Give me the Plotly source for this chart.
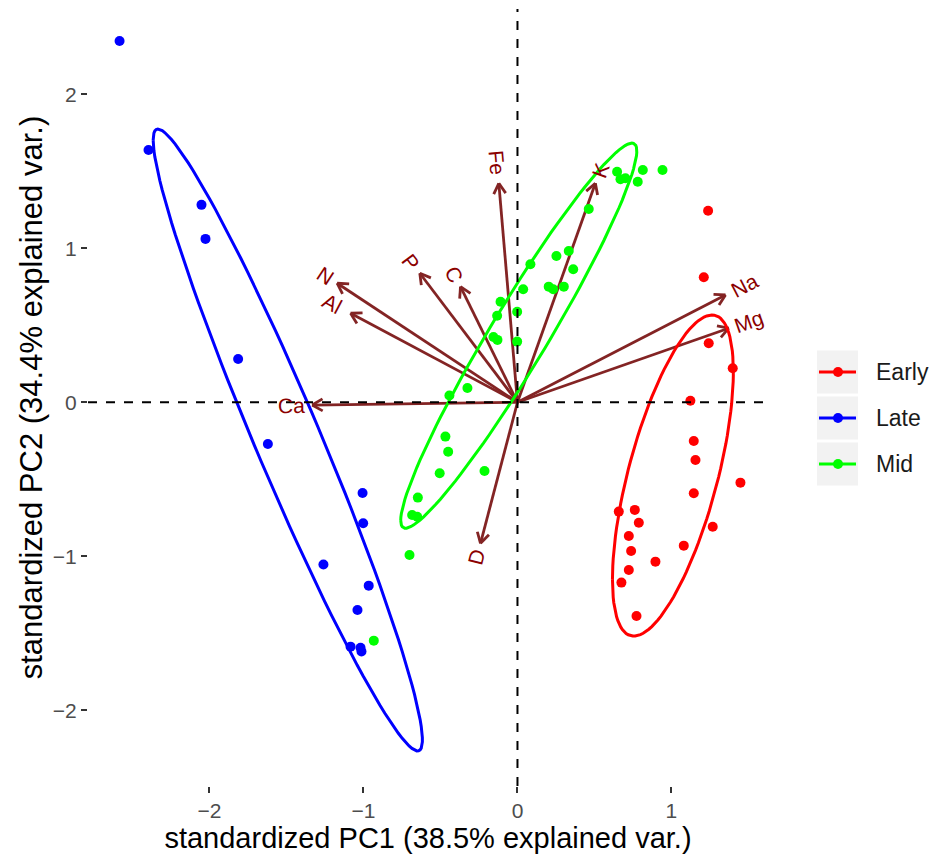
import numpy as np
import plotly.graph_objects as go

# ---- PCA scores (standardized PC1 / PC2) per stage ----
early_pc1 = [1.238, 1.210, 1.242, 1.398, 1.123, 1.145, 1.156, 1.448, 1.145, 0.658,
             0.762, 0.788, 0.723, 0.738, 1.268, 1.080, 0.896, 0.723, 0.675, 0.773]
early_pc2 = [1.244, 0.812, 0.383, 0.221, 0.010, -0.251, -0.375, -0.522, -0.591, -0.710,
             -0.699, -0.782, -0.868, -0.966, -0.808, -0.931, -1.035, -1.089, -1.171, -1.388]

late_pc1 = [-2.584, -2.396, -2.052, -2.026, -1.814, -1.621, -1.006, -1.002, -1.260,
            -0.966, -1.039, -1.084, -1.019, -1.013]
late_pc2 = [2.346, 1.638, 1.282, 1.061, 0.281, -0.271, -0.589, -0.786, -1.054,
            -1.191, -1.349, -1.587, -1.594, -1.619]

mid_pc1 = [-0.442, -0.325, -0.156, -0.130, -0.002, -0.132, -0.110, -0.002, 0.037, 0.084,
           0.203, 0.232, 0.301, 0.253, 0.333, 0.362, 0.463, 0.647, 0.669, 0.701,
           0.781, 0.814, 0.942, -0.468, -0.450, -0.505, -0.214, -0.647, -0.684, -0.651,
           -0.701, -0.933]
mid_pc2 = [0.044, 0.093, 0.424, 0.405, 0.394, 0.562, 0.653, 0.588, 0.734, 0.896,
           0.751, 0.734, 0.751, 0.950, 0.982, 0.864, 1.255, 1.497, 1.448, 1.455,
           1.432, 1.508, 1.508, -0.223, -0.321, -0.461, -0.446, -0.619, -0.732, -0.743,
           -0.992, -1.548]

# ---- variable loadings (arrows) ----
var_names = ["Fe", "N", "Al", "P", "C", "Ca", "K", "Na", "Mg", "D"]
var_pc1 = [-0.121, -1.171, -1.084, -0.634, -0.370, -1.333, 0.506, 1.351, 1.372, -0.240]
var_pc2 = [1.422, 0.773, 0.578, 0.838, 0.751, -0.018, 1.422, 0.697, 0.481, -0.916]

groups = ["Early", "Late", "Mid"]
group_colors = {"Early": "#FF0000", "Late": "#0000FF", "Mid": "#00FF00"}
scores = {
    "Early": (early_pc1, early_pc2),
    "Late": (late_pc1, late_pc2),
    "Mid": (mid_pc1, mid_pc2),
}

x_title = "standardized PC1 (38.5% explained var.)"
y_title = "standardized PC2 (34.4% explained var.)"

# ---- layout geometry ----
W, H = 934, 857
ML, MR, MT, MB = 88, 166, 9, 71
PW, PH = W - ML - MR, H - MT - MB
X_RANGE = [-2.789, 1.627]
PX = PW / (X_RANGE[1] - X_RANGE[0])          # pixels per data unit (equal aspect)
Y_RANGE = [-2.492, -2.492 + PH / PX]

ARROW_COL = "#832424"
LABEL_COL = "#8B0000"
FONT = "Arial, Liberation Sans, sans-serif"

fig = go.Figure()

# loading arrows: shaft + open head, built from each loading vector
head_len = 12 / PX
ax_x, ax_y = [], []
for vx, vy in zip(var_pc1, var_pc2):
    ang = np.arctan2(vy, vx)
    ax_x += [0, vx, None]
    ax_y += [0, vy, None]
    for s in (np.pi / 6, -np.pi / 6):
        ax_x += [vx - head_len * np.cos(ang + s), vx, None]
        ax_y += [vy - head_len * np.sin(ang + s), vy, None]
fig.add_trace(go.Scatter(x=ax_x, y=ax_y, mode="lines",
                         line=dict(color=ARROW_COL, width=2.8),
                         hoverinfo="skip", showlegend=False))

# sample scores
for g in groups:
    gx, gy = scores[g]
    fig.add_trace(go.Scatter(x=gx, y=gy, mode="markers", name=g,
                             marker=dict(color=group_colors[g], size=10),
                             showlegend=False))

# 68% normal-probability ellipses per group
theta = np.linspace(-np.pi, np.pi, 120)
circle = np.column_stack([np.cos(theta), np.sin(theta)])
ed = np.sqrt(-2 * np.log(1 - 0.68))
for g in groups:
    gx, gy = scores[g]
    pts = np.column_stack([gx, gy])
    mu = pts.mean(axis=0)
    sigma = np.cov(pts, rowvar=False)
    L = np.linalg.cholesky(sigma)
    ell = circle @ L.T * ed + mu
    fig.add_trace(go.Scatter(x=ell[:, 0], y=ell[:, 1], mode="lines",
                             line=dict(color=group_colors[g], width=3),
                             hoverinfo="skip", showlegend=False))

# variable names at the arrow tips, rotated along each arrow
for name, vx, vy in zip(var_names, var_pc1, var_pc2):
    n = np.hypot(vx, vy)
    off = (7 + 7 * len(name)) / PX
    cx, cy = vx + vx / n * off, vy + vy / n * off
    angle = np.degrees(np.arctan(vy / vx))
    fig.add_annotation(x=cx, y=cy, text=name, showarrow=False,
                       textangle=-angle, xanchor="center", yanchor="middle",
                       font=dict(family=FONT, size=21, color=LABEL_COL))

# dashed reference lines through the origin
fig.add_shape(type="line", xref="x", yref="paper", x0=0, x1=0, y0=0, y1=1,
              line=dict(color="black", width=2, dash="dash"), layer="above")
fig.add_shape(type="line", xref="paper", yref="y", x0=0, x1=1, y0=0, y1=0,
              line=dict(color="black", width=2, dash="dash"), layer="above")

# legend (keys on grey tiles)
def px_x(p):
    return (p - ML) / PW

def px_y(p):
    return (H - MB - p) / PH

key_x0, key_x1 = 817, 858
key_centers = [372, 418, 464]
for g, cyp in zip(groups, key_centers):
    fig.add_shape(type="rect", xref="paper", yref="paper",
                  x0=px_x(key_x0), x1=px_x(key_x1),
                  y0=px_y(cyp + 21.5), y1=px_y(cyp - 21.5),
                  fillcolor="#F2F2F2", line=dict(width=0), layer="below")
    fig.add_shape(type="line", xref="paper", yref="paper",
                  x0=px_x(key_x0 + 2), x1=px_x(key_x1 - 2),
                  y0=px_y(cyp), y1=px_y(cyp),
                  line=dict(color=group_colors[g], width=3))
    fig.add_shape(type="circle", xref="paper", yref="paper",
                  x0=px_x(838 - 5), x1=px_x(838 + 5),
                  y0=px_y(cyp + 5), y1=px_y(cyp - 5),
                  fillcolor=group_colors[g], line=dict(width=0))
    fig.add_annotation(xref="paper", yref="paper", x=px_x(874), y=px_y(cyp),
                       text=g, showarrow=False, xanchor="left", yanchor="middle",
                       font=dict(family=FONT, size=23, color="#1A1A1A"))

axis_common = dict(showgrid=False, zeroline=False, showline=False,
                   ticks="outside", ticklen=6, tickwidth=2, tickcolor="#333333",
                   tickfont=dict(family=FONT, size=21, color="#4D4D4D"),
                   dtick=1, tick0=0)

fig.update_layout(
    width=W, height=H,
    margin=dict(l=ML, r=MR, t=MT, b=MB),
    paper_bgcolor="white", plot_bgcolor="white",
    showlegend=False,
    xaxis=dict(range=X_RANGE, title=dict(text=x_title, standoff=4,
               font=dict(family=FONT, size=29, color="black")), **axis_common),
    yaxis=dict(range=Y_RANGE, title=dict(text=y_title, standoff=0,
               font=dict(family=FONT, size=31, color="black")), **axis_common),
)

fig.write_html("out.html")
